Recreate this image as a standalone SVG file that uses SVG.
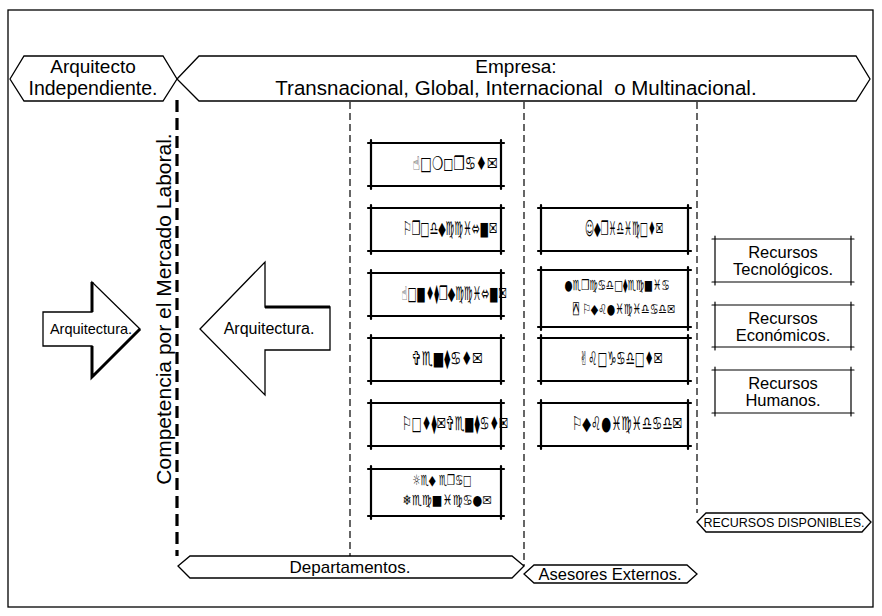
<svg xmlns="http://www.w3.org/2000/svg" width="882" height="616" viewBox="0 0 882 616">
<style>
.t{font-family:"Liberation Sans",Arial,sans-serif;fill:#000;text-anchor:middle}
.g{font-family:"DejaVu Sans","DejaVu Sans Mono","Noto Sans",sans-serif;font-size:19px;font-weight:bold;fill:#000;text-anchor:middle}
.g2{font-size:14px}
.ln{fill:none;stroke:#000;stroke-width:1.3}
.bx{fill:none;stroke:#000;stroke-width:2.2;stroke-linecap:round}
.bt{fill:none;stroke:#000;stroke-width:1.2;stroke-linecap:round}
.dsh{fill:none;stroke:#000;stroke-width:1.2;stroke-dasharray:7 4}
</style>
<rect x="0" y="0" width="882" height="616" fill="#fff"/>
<rect x="8" y="10" width="865" height="597" fill="none" stroke="#000" stroke-width="1.3"/>

<g id="connectors">
<line x1="177" y1="100" x2="177" y2="556" stroke="#000" stroke-width="3.2" stroke-dasharray="12 6"/>
<line class="dsh" x1="350" y1="102" x2="350" y2="556"/>
<line class="dsh" x1="524" y1="102" x2="524" y2="566"/>
<line class="dsh" x1="697" y1="102" x2="697" y2="513"/>
</g>

<g id="arquitecto-independiente">
<polygon class="ln" points="10,79 24,56 163,56 177,79 163,101 24,101"/>
<text class="t" x="93" y="73" font-size="19">Arquitecto</text>
<text class="t" x="93" y="95" font-size="19.5">Independiente.</text>
</g>

<g id="empresa">
<polygon class="ln" points="177,79 199,56 856,56 870,79 856,101 199,101"/>
<text class="t" x="516" y="73" font-size="19">Empresa:</text>
<text class="t" x="516" y="95" font-size="20.5" xml:space="preserve">Transnacional, Global, Internacional  o Multinacional.</text>
</g>

<g id="competencia">
<text class="t" transform="translate(171,309) rotate(-90)" font-size="21">Competencia por el Mercado Laboral.</text>
</g>

<g id="arrow-arquitectura-left">
<polygon class="ln" points="43,312 92,312 92,282 140,329 92,377 92,346 43,346" fill="#fff"/>
<polyline points="92,312 92,282" fill="none" stroke="#000" stroke-width="3"/>
<polyline points="140,329 92,377 92,346" fill="none" stroke="#000" stroke-width="3"/>
<text class="t" x="91" y="334" font-size="14.5">Arquitectura.</text>
</g>

<g id="arrow-arquitectura-right">
<polygon class="ln" points="200,329 265,262 265,307 330,307 330,350 265,350 265,395" fill="#fff"/>
<polyline points="265,307 330,307" fill="none" stroke="#000" stroke-width="3"/>
<text class="t" x="269" y="334" font-size="16">Arquitectura.</text>
</g>

<g id="dep-1">
<path class="bx" d="M368,143H504M368,186H504M371,140V189M501,140V189"/>
<text class="g" x="455" y="170" textLength="85" lengthAdjust="spacingAndGlyphs">☝□❍◻❒♋♦✉</text>
</g>
<g id="dep-2">
<path class="bx" d="M368,208H504M368,251H504M371,205V254M501,205V254"/>
<text class="g" x="450" y="235" textLength="94" lengthAdjust="spacingAndGlyphs">⚐❒□♎◆♍♍♓⬄■✉</text>
</g>
<g id="dep-3">
<path class="bx" d="M368,273H504M368,316H504M371,270V319M501,270V319"/>
<text class="g" x="454" y="300" textLength="105" lengthAdjust="spacingAndGlyphs">☝□■♦⧫❒◆♍♍♓⬄■✉</text>
</g>
<g id="dep-4">
<path class="bx" d="M368,338H504M368,381H504M371,335V384M501,335V384"/>
<text class="g" x="447" y="365" textLength="71" lengthAdjust="spacingAndGlyphs">✞♏■⧫♋♦✉</text>
</g>
<g id="dep-5">
<path class="bx" d="M368,403H504M368,446H504M371,400V449M501,400V449"/>
<text class="g" x="455" y="430" textLength="106" lengthAdjust="spacingAndGlyphs">⚐□♦⧫✉✞♏■⧫♋♦✉</text>
</g>
<g id="dep-6">
<path class="bx" d="M368,469H504M368,516H504M371,466V519M501,466V519"/>
<text class="g g2" x="442" y="485" textLength="59" lengthAdjust="spacingAndGlyphs">☼♏◆ ♏❒♋□</text>
<text class="g g2" x="447" y="505" textLength="89" lengthAdjust="spacingAndGlyphs">❄♏♍■♓♍♋●✉</text>
</g>

<g id="ase-1">
<path class="bx" d="M538,208H691M538,251H691M541,205V254M688,205V254"/>
<text class="g" x="624" y="235" textLength="78" lengthAdjust="spacingAndGlyphs">☺◆❒♓♎♓♍□♦✉</text>
</g>
<g id="ase-2">
<path class="bx" d="M538,270H691M538,327H691M541,267V330M688,267V330"/>
<text class="g g2" x="617" y="290" textLength="105" lengthAdjust="spacingAndGlyphs">●♏❒♍♋♎□⧫♏♍■♓♋</text>
<text class="g g2" x="624" y="314" textLength="102" lengthAdjust="spacingAndGlyphs">⍓ ⚐◆♌●♓♍♓♎♋♎✉</text>
</g>
<g id="ase-3">
<path class="bx" d="M538,338H691M538,381H691M541,335V384M688,335V384"/>
<text class="g" x="621" y="365" textLength="83" lengthAdjust="spacingAndGlyphs">✌♌□♑♋♎□♦✉</text>
</g>
<g id="ase-4">
<path class="bx" d="M538,403H691M538,446H691M541,400V449M688,400V449"/>
<text class="g" x="627" y="430" textLength="110" lengthAdjust="spacingAndGlyphs">⚐◆♌●♓♍♓♎♋♎✉</text>
</g>

<g id="rec-1">
<path class="bt" d="M712,239H854M712,282H854M715,236V285M851,236V285"/>
<text class="t" x="783" y="258" font-size="16.5">Recursos</text>
<text class="t" x="783" y="275" font-size="16.5">Tecnológicos.</text>
</g>
<g id="rec-2">
<path class="bt" d="M712,305H854M712,347H854M715,302V350M851,302V350"/>
<text class="t" x="783" y="324" font-size="16.5">Recursos</text>
<text class="t" x="783" y="341" font-size="16.5">Económicos.</text>
</g>
<g id="rec-3">
<path class="bt" d="M712,370H854M712,413H854M715,367V416M851,367V416"/>
<text class="t" x="783" y="389" font-size="16.5">Recursos</text>
<text class="t" x="783" y="406" font-size="16.5">Humanos.</text>
</g>

<g id="departamentos">
<polygon class="ln" points="178,566 190,556 512,556 524,566 512,578 190,578"/>
<text class="t" x="350" y="573" font-size="17">Departamentos.</text>
</g>
<g id="asesores-externos">
<polygon class="ln" points="524,574 534,565 687,565 697,574 687,583 534,583"/>
<text class="t" x="610" y="580" font-size="16.5">Asesores Externos.</text>
</g>
<g id="recursos-disponibles">
<polygon class="ln" points="697,522 706,513 862,513 871,522 862,532 706,532"/>
<text class="t" x="784" y="527" font-size="12.5">RECURSOS DISPONIBLES.</text>
</g>
</svg>
